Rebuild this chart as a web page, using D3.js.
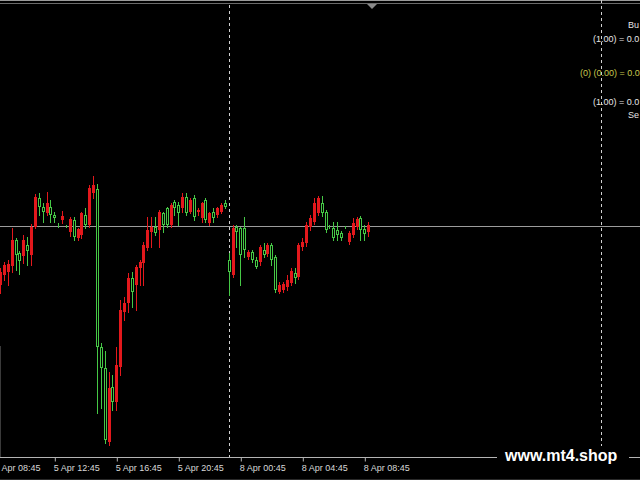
<!DOCTYPE html>
<html><head><meta charset="utf-8">
<script src="https://cdn.jsdelivr.net/npm/d3@7"></script>
<style>html,body{margin:0;padding:0;background:#000;overflow:hidden}svg{display:block}</style>
</head><body>
<script>
// ---- DATA (15-minute bars, 5 Apr 09:15 -> 8 Apr 09:00) ----
const opens = [1.08242,1.08262,1.08268,1.08280,1.08332,1.08306,1.08300,1.08322,1.08302,1.08358,
1.08416,1.08398,1.08386,1.08398,1.08382,1.08362,1.08372,1.08360,1.08348,1.08372,
1.08336,1.08342,1.08382,1.08362,1.08426,1.08434,1.08118,1.08076,1.07928,1.08038,
1.08008,1.08078,1.08188,1.08206,1.08256,1.08242,1.08276,1.08286,1.08316,1.08348,
1.08358,1.08352,1.08386,1.08396,1.08362,1.08408,1.08402,1.08396,1.08418,1.08388,
1.08416,1.08388,1.08376,1.08412,1.08366,1.08388,1.08382,1.08388,1.08406,1.08292,
1.08262,1.08358,1.08356,1.08356,1.08298,1.08308,1.08292,1.08288,1.08312,1.08304,
1.08322,1.08298,1.08228,1.08232,1.08238,1.08246,1.08266,1.08258,1.08318,1.08326,
1.08358,1.08368,1.08386,1.08406,1.08388,1.08360,1.08356,1.08352,1.08346,1.08358,
1.08328,1.08342,1.08358,1.08376,1.08354,1.08348];
const highs = [1.08276,1.08288,1.08292,1.08356,1.08336,1.08310,1.08342,1.08338,1.08364,1.08424,
1.08426,1.08406,1.08428,1.08412,1.08388,1.08366,1.08390,1.08362,1.08378,1.08378,
1.08356,1.08388,1.08396,1.08442,1.08460,1.08444,1.08126,1.08110,1.08068,1.08062,
1.08118,1.08212,1.08218,1.08266,1.08268,1.08282,1.08292,1.08328,1.08378,1.08378,
1.08378,1.08392,1.08388,1.08398,1.08406,1.08412,1.08408,1.08426,1.08426,1.08416,
1.08422,1.08396,1.08408,1.08416,1.08388,1.08396,1.08398,1.08406,1.08412,1.08306,
1.08362,1.08362,1.08358,1.08378,1.08312,1.08312,1.08298,1.08322,1.08326,1.08326,
1.08326,1.08302,1.08248,1.08248,1.08262,1.08276,1.08276,1.08326,1.08336,1.08368,
1.08382,1.08416,1.08420,1.08420,1.08392,1.08362,1.08368,1.08368,1.08350,1.08360,
1.08350,1.08376,1.08378,1.08380,1.08362,1.08368];
const lows = [1.08226,1.08252,1.08242,1.08268,1.08272,1.08264,1.08286,1.08282,1.08282,1.08356,
1.08382,1.08368,1.08382,1.08368,1.08368,1.08358,1.08366,1.08358,1.08340,1.08332,
1.08332,1.08336,1.08356,1.08358,1.08416,1.07986,1.07996,1.07926,1.07922,1.07992,
1.07992,1.08062,1.08172,1.08188,1.08198,1.08192,1.08242,1.08242,1.08312,1.08318,
1.08342,1.08318,1.08348,1.08358,1.08358,1.08382,1.08362,1.08388,1.08382,1.08386,
1.08372,1.08382,1.08368,1.08368,1.08362,1.08368,1.08378,1.08386,1.08396,1.08222,
1.08258,1.08318,1.08242,1.08298,1.08294,1.08288,1.08276,1.08282,1.08298,1.08300,
1.08282,1.08228,1.08226,1.08228,1.08232,1.08242,1.08246,1.08254,1.08312,1.08320,
1.08352,1.08364,1.08382,1.08380,1.08348,1.08356,1.08332,1.08332,1.08332,1.08356,
1.08324,1.08338,1.08354,1.08332,1.08332,1.08340];
const closes = [1.08268,1.08282,1.08284,1.08332,1.08302,1.08290,1.08332,1.08310,1.08358,1.08418,
1.08398,1.08388,1.08406,1.08382,1.08376,1.08362,1.08380,1.08360,1.08374,1.08338,
1.08354,1.08386,1.08362,1.08436,1.08442,1.08118,1.08076,1.07932,1.08036,1.08008,
1.08082,1.08192,1.08206,1.08256,1.08228,1.08278,1.08288,1.08322,1.08352,1.08358,
1.08346,1.08388,1.08362,1.08362,1.08402,1.08396,1.08386,1.08418,1.08386,1.08412,
1.08378,1.08392,1.08406,1.08372,1.08386,1.08376,1.08396,1.08402,1.08398,1.08268,
1.08356,1.08348,1.08302,1.08312,1.08308,1.08292,1.08278,1.08318,1.08302,1.08322,
1.08292,1.08232,1.08242,1.08244,1.08252,1.08270,1.08256,1.08322,1.08328,1.08362,
1.08376,1.08406,1.08416,1.08386,1.08352,1.08358,1.08336,1.08342,1.08336,1.08358,
1.08346,1.08366,1.08374,1.08352,1.08344,1.08362];
const bidPrice = 1.08360;
const firstBarTime = "5 Apr 09:15";
const separatorTime = "8 Apr 00:00";
const tickLabels = ["5 Apr 08:45","5 Apr 12:45","5 Apr 16:45","5 Apr 20:45","8 Apr 00:45","8 Apr 04:45","8 Apr 08:45"];
// right-hand info panel, as much of it as is visible in the window
const infoLines = [
  {text:"Bu", color:"#e6e6e6", x:628, y:28},
  {text:"(1.00) = 0.0", color:"#e6e6e6", x:593, y:42},
  {text:"(0) (0.00) = 0.0", color:"#c8c84e", x:580, y:76},
  {text:"(1.00) = 0.0", color:"#e6e6e6", x:593, y:105},
  {text:"Se", color:"#e6e6e6", x:628, y:118}
];
const watermark = "www.mt4.shop";

// time slots (weekend skipped)
const pad = n => String(n).padStart(2,"0");
const slots = [];
for (let m = 8*60+45; m <= 23*60+45; m += 15) slots.push(`5 Apr ${pad(Math.floor(m/60))}:${pad(m%60)}`);
for (let m = 0; m <= 9*60; m += 15) slots.push(`8 Apr ${pad(Math.floor(m/60))}:${pad(m%60)}`);
const start = slots.indexOf(firstBarTime);
const bars = opens.map((o,k)=>({slot:start+k,o,h:highs[k],l:lows[k],c:closes[k]}));

const W = 640, H = 480;
const svg = d3.select("body").append("svg").attr("width",W).attr("height",H);
svg.append("rect").attr("width",W).attr("height",H).attr("fill","#000");

const x = d3.scaleLinear().domain([0,165]).range([-7.7, -7.7+165*3.875]);
const y = d3.scaleLinear().domain([1.07912,1.08812]).range([450,0]);

// top border + shift marker
svg.append("line").attr("x1",0).attr("x2",W).attr("y1",0.5).attr("y2",0.5).attr("stroke","#9a9a9a");
svg.append("line").attr("x1",0).attr("x2",W).attr("y1",3.5).attr("y2",3.5).attr("stroke","#6a6a6a");
const tx = Math.round(x(start+bars.length));
svg.append("path").attr("d",`M${tx-5},4L${tx+5},4L${tx},9Z`).attr("fill","#8a8a8a");

// separators
const sepX = Math.round(x(slots.indexOf(separatorTime)))+0.5;
svg.append("line").attr("x1",sepX).attr("x2",sepX).attr("y1",5).attr("y2",457)
  .attr("stroke","#d0d0d0").attr("stroke-dasharray","3,3");
const shiftX = Math.round(x(157))+0.5;
svg.append("line").attr("x1",shiftX).attr("x2",shiftX).attr("y1",0).attr("y2",457)
  .attr("stroke","#d0d0d0").attr("stroke-dasharray","3,3");

// faint left edge line
svg.append("line").attr("x1",0.5).attr("x2",0.5).attr("y1",346).attr("y2",457).attr("stroke","#3a3a3a");

// bid line
const by = Math.round(y(bidPrice))+0.5;
svg.append("line").attr("x1",0).attr("x2",W).attr("y1",by).attr("y2",by).attr("stroke","#9c9c9c");

// candles
const UP = "#e3181c", DOWN = "#46c846";
const g = svg.append("g");
bars.forEach(b=>{
  const cx = Math.round(x(b.slot));
  const up = b.c > b.o;
  const col = up ? UP : DOWN;
  g.append("line").attr("x1",cx+0.5).attr("x2",cx+0.5)
    .attr("y1",Math.round(y(b.h))).attr("y2",Math.round(y(b.l))+1).attr("stroke",col);
  const top = Math.round(y(Math.max(b.o,b.c))), bot = Math.round(y(Math.min(b.o,b.c)));
  if (up) {
    g.append("rect").attr("x",cx-1).attr("y",top).attr("width",3).attr("height",Math.max(1,bot-top)).attr("fill",col);
  } else {
    g.append("rect").attr("x",cx-0.5).attr("y",top+0.5).attr("width",2).attr("height",Math.max(0,bot-top-1))
      .attr("fill","#000").attr("stroke",col);
  }
});

// bottom axis
svg.append("line").attr("x1",0).attr("x2",W).attr("y1",457.5).attr("y2",457.5).attr("stroke","#b4b4b4");
const axis = d3.axisBottom(x)
  .tickValues(tickLabels.map(t=>slots.indexOf(t)))
  .tickFormat(i=>slots[i]).tickSize(4).tickSizeOuter(0);
const ag = svg.append("g").attr("transform","translate(0,457.5)").call(axis);
ag.select(".domain").remove();
ag.selectAll(".tick line").attr("stroke","#b4b4b4").attr("transform","translate(0.5,0)");
ag.selectAll(".tick text").attr("fill","#d8d8d8").attr("text-anchor","start").attr("dx",-1)
  .style("font-family","'Liberation Sans',Arial,sans-serif").style("font-size","9px");
// label whose start falls left of the window: show only its visible part, flush with the edge
ag.selectAll(".tick").each(function(i){
  const px = x(i) - 1;
  if (px < 0) {
    const t = d3.select(this).select("text");
    t.text(slots[i].replace(/^\d+\s/,"")).attr("dx", -px);
  }
});

// info text (right)
infoLines.forEach(d=>{
  svg.append("text").attr("x",d.x).attr("y",d.y).attr("fill",d.color)
    .style("font-family","'Liberation Sans',Arial,sans-serif").style("font-size","9px").text(d.text);
});

// watermark
svg.append("rect").attr("x",497).attr("y",446).attr("width",132).attr("height",20).attr("fill","#000");
svg.append("text").attr("x",505).attr("y",461).attr("fill","#fff")
  .style("font-family","'Liberation Sans',Arial,sans-serif").style("font-size","16px").style("font-weight","bold")
  .text(watermark);
svg.append("line").attr("x1",0).attr("x2",W).attr("y1",479.5).attr("y2",479.5).attr("stroke","#2a2a2a");
</script>
</body></html>
